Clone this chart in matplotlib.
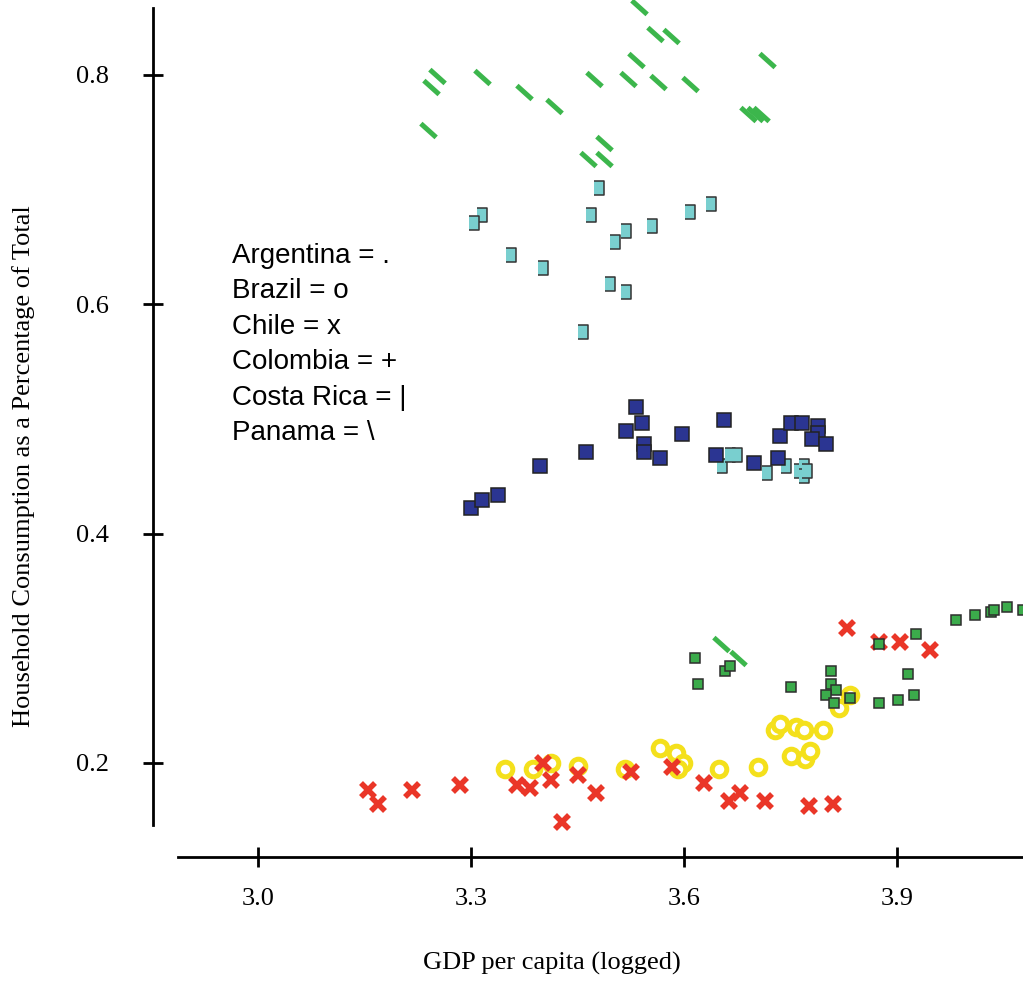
import matplotlib
matplotlib.use('Agg')
import matplotlib.pyplot as plt
from matplotlib.path import Path

# household consumption share vs logged GDP per capita
arg_x = [3.6159, 3.6193, 3.6573, 3.6644, 3.7511, 3.8070, 3.8070, 3.8145, 3.7996,
         3.8108, 3.8334, 3.8746, 3.8746, 3.9010, 3.9235, 3.9159, 3.9272, 3.9835,
         4.0099, 4.0324, 4.0362, 4.0549, 4.0775]
arg_y = [0.2918, 0.2686, 0.2802, 0.2849, 0.2663, 0.2802, 0.2686, 0.2639, 0.2593,
         0.2523, 0.2570, 0.2523, 0.3035, 0.2547, 0.2593, 0.2779, 0.3128, 0.3245,
         0.3291, 0.3314, 0.3337, 0.3361, 0.3337]

bra_x = [3.3483, 3.3868, 3.4125, 3.4510, 3.5168, 3.5665, 3.5889, 3.5986, 3.5921,
         3.6499, 3.7049, 3.7508, 3.7706, 3.7768, 3.7282, 3.7356, 3.7582, 3.7694,
         3.7958, 3.8183, 3.8334]
bra_y = [0.1950, 0.1950, 0.1997, 0.1973, 0.1950, 0.2128, 0.2083, 0.2002, 0.1950,
         0.1950, 0.1965, 0.2062, 0.2039, 0.2108, 0.2291, 0.2338, 0.2314, 0.2291,
         0.2291, 0.2477, 0.2593]

chl_x = [3.1542, 3.1686, 3.2168, 3.2841, 3.3644, 3.3837, 3.4013, 3.4125, 3.4510,
         3.4766, 3.4285, 3.5248, 3.5825, 3.6275, 3.6627, 3.6787, 3.7141, 3.7766,
         3.8103, 3.8296, 3.8746, 3.9046, 3.9461]
chl_y = [0.1760, 0.1639, 0.1760, 0.1806, 0.1806, 0.1783, 0.2002, 0.1853, 0.1898,
         0.1738, 0.1484, 0.1922, 0.1968, 0.1829, 0.1668, 0.1738, 0.1668, 0.1623,
         0.1645, 0.3175, 0.3058, 0.3058, 0.2988]

col_x = [3.3000, 3.3151, 3.3376, 3.3976, 3.4615, 3.5179, 3.5328, 3.5404, 3.5441,
         3.5441, 3.5666, 3.5968, 3.6568, 3.6455, 3.6982, 3.7320, 3.7356, 3.7507,
         3.7658, 3.7883, 3.7883, 3.7807, 3.7996]
col_y = [0.4221, 0.4291, 0.4337, 0.4593, 0.4710, 0.4895, 0.5105, 0.4965, 0.4779,
         0.4710, 0.4663, 0.4872, 0.4989, 0.4686, 0.4616, 0.4663, 0.4849, 0.4965,
         0.4965, 0.4942, 0.4878, 0.4826, 0.4779]

cri_x = [3.4807, 3.3151, 3.3038, 3.4690, 3.6380, 3.6080, 3.5179, 3.5028, 3.5554,
         3.3563, 3.4014, 3.4954, 3.5179, 3.4577, 3.6531, 3.6648, 3.6751, 3.7169,
         3.7432, 3.7620, 3.7694, 3.7694, 3.7728]
cri_y = [0.7012, 0.6779, 0.6709, 0.6779, 0.6872, 0.6803, 0.6640, 0.6546, 0.6686,
         0.6430, 0.6314, 0.6175, 0.6105, 0.5756, 0.4590, 0.4686, 0.4686, 0.4527,
         0.4590, 0.4547, 0.4590, 0.4503, 0.4547]

pan_x = [3.2394, 3.2437, 3.2521, 3.3155, 3.3746, 3.4169, 3.4648, 3.4873, 3.4873,
         3.4732, 3.5211, 3.5366, 3.5592, 3.5817, 3.5324, 3.5634, 3.6085, 3.6901,
         3.7000, 3.7085, 3.7169, 3.6521, 3.6761]
pan_y = [0.7520, 0.7895, 0.7991, 0.7983, 0.7852, 0.7730, 0.7267, 0.7407, 0.7267,
         0.7965, 0.7965, 0.8593, 0.8358, 0.8340, 0.8131, 0.7939, 0.7922, 0.7660,
         0.7660, 0.7660, 0.8131, 0.3038, 0.2916]

legend_lines = ['Argentina = .', 'Brazil = o', 'Chile = x', 'Colombia = +',
                'Costa Rica = |', 'Panama = \\']

plt.rcParams['font.family'] = 'Liberation Serif'
fig = plt.figure(figsize=(10.23, 9.82), dpi=100)
ax = fig.add_axes([153 / 1023, 1 - 857 / 982, 870 / 1023, 857 / 982])
ax.set_xlim(2.852, 4.0775)
ax.set_ylim(0.118, 0.8654)

bar_marker = [(-0.32, -0.5), (0.32, -0.5), (0.32, 0.5), (-0.32, 0.5)]
slash_marker = Path([(-0.5, 0.45), (0.5, -0.45)], [Path.MOVETO, Path.LINETO])

ax.plot(bra_x, bra_y, 'o', ls='none', ms=10.5, mfc='white', mec='#f4e01c', mew=3.6)
ax.plot(chl_x, chl_y, 'x', ls='none', ms=10.5, mec='#ea3628', mew=4)
ax.plot(arg_x, arg_y, 's', ls='none', ms=7, mfc='#3bab4b', mec='#2e2e2e', mew=1.1)
ax.plot(cri_x, cri_y, marker=bar_marker, ls='none', ms=10.5, mfc='#79cfcf',
        mec='#333333', mew=1.1)
ax.plot(col_x, col_y, 's', ls='none', ms=10, mfc='#2b3592', mec='#222222', mew=1.1)
ax.plot(pan_x, pan_y, marker=slash_marker, ls='none', ms=11, mec='#3cb64c',
        mew=3.6, clip_on=False)

for s in ['top', 'right']:
    ax.spines[s].set_visible(False)
ax.spines['left'].set_bounds(0.146, 0.858)
ax.spines['bottom'].set_bounds(2.887, 4.0775)
ax.spines['left'].set_linewidth(2)
ax.spines['bottom'].set_linewidth(2)
ax.spines['bottom'].set_position(('data', 0.118))

ax.set_xticks([3.0, 3.3, 3.6, 3.9])
ax.set_xticklabels(['3.0', '3.3', '3.6', '3.9'])
ax.set_yticks([0.2, 0.4, 0.6, 0.8])
ax.set_yticklabels(['0.2', '0.4', '0.6', '0.8'])
ax.tick_params(axis='both', direction='inout', length=14, width=2, labelsize=19)
ax.tick_params(axis='y', pad=25)
ax.tick_params(axis='x', pad=15)

ax.set_xlabel('GDP per capita (logged)', fontsize=19, va='center')
ax.xaxis.set_label_coords(0.4586, -0.1237)
ax.set_ylabel('Household Consumption as a Percentage of Total', fontsize=19, va='center')
ax.yaxis.set_label_coords(-0.1485, 0.456)

ax.text(0.0908, 0.717, '\n'.join(legend_lines), transform=ax.transAxes,
        family='Liberation Sans', fontsize=20, va='top', ha='left',
        linespacing=1.475)

fig.savefig('out.png', dpi=100)
